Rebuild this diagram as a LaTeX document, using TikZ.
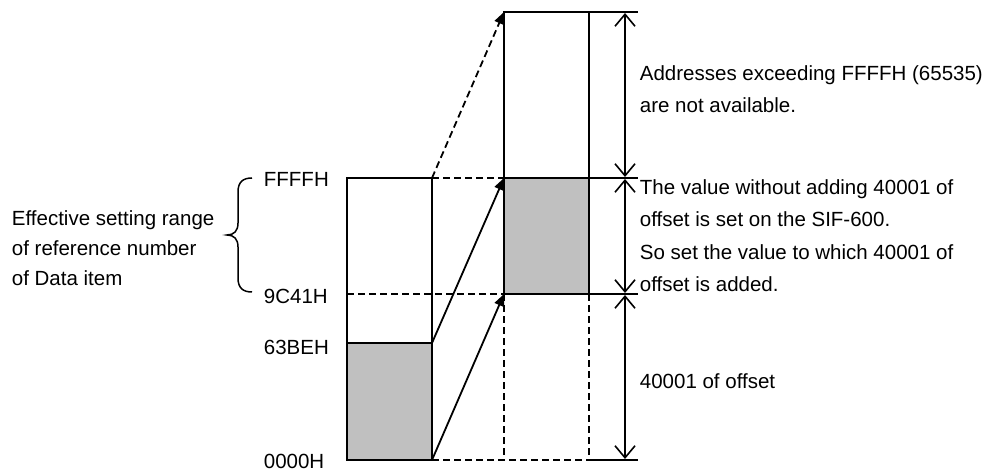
\documentclass[tikz,border=0pt]{standalone}
\usepackage{fontspec}
\setmainfont{Liberation Sans}
\usetikzlibrary{arrows.meta}
\definecolor{boxgray}{HTML}{C0C0C0}
\begin{document}
\begin{tikzpicture}[x=1pt,y=-1pt,line width=1.8pt,
  txt/.style={anchor=base west,inner sep=0pt,font=\fontsize{20.5}{24}\selectfont},
  dsh/.style={dash pattern=on 7pt off 4pt},
  fa/.style={-{Triangle[length=12pt,width=10pt]}},
  vtip/.tip={Straight Barb[length=12pt,width=20pt]},
  da/.style={line width=1.6pt,vtip-vtip}]
\useasboundingbox (0,0) rectangle (998,470);
% coordinates
\coordinate (lt1) at (347,178); \coordinate (lt2) at (432,178);
\coordinate (lm1) at (347,294); \coordinate (lm2) at (432,294);
\coordinate (ls1) at (347,343); \coordinate (ls2) at (432,343);
\coordinate (lb1) at (347,460); \coordinate (lb2) at (432,460);
\coordinate (rt1) at (504,12);  \coordinate (rt2) at (589,12);
\coordinate (ru1) at (504,178); \coordinate (ru2) at (589,178);
\coordinate (rm1) at (504,294); \coordinate (rm2) at (589,294);
\coordinate (rb1) at (504,460); \coordinate (rb2) at (589,460);
\coordinate (e1) at (638,12); \coordinate (e2) at (638,178);
\coordinate (e3) at (638,294); \coordinate (e4) at (638,460);
\coordinate (a1) at (625,13); \coordinate (a2) at (625,177);
\coordinate (a2b) at (625,179); \coordinate (a3) at (625,293);
\coordinate (a3b) at (625,295); \coordinate (a4) at (625,459);
% fills
\fill[boxgray] (ls1) rectangle (lb2);
\fill[boxgray] (ru1) rectangle (rm2);
% dashed lines
\draw[dsh] (lt2) -- (ru1);
\draw[dsh] (lm1) -- (rm1);
\draw[dsh] (lb2) -- (rb2);
\draw[dsh] (rm1) -- (rb1);
\draw[dsh] (rm2) -- (rb2);
% solid boxes
\draw (lt1) rectangle (lb2);
\draw (ls1) -- (ls2);
\draw (rt1) rectangle (rm2);
\draw (ru1) -- (e2);
\draw (rt2) -- (e1);
\draw (rm2) -- (e3);
\draw (rb2) -- (e4);
% arrows
\draw[dsh,fa] (lt2) -- (rt1);
\draw[fa] (ls2) -- (ru1);
\draw[fa] (lb2) -- (rm1);
\draw[da] (a1) -- (a2);
\draw[da] (a2b) -- (a3);
\draw[da] (a3b) -- (a4);
% brace
\draw[line width=1.5pt] (252,178) .. controls (243,178) and (238,182) .. (238,192) -- (238,223)
  .. controls (238,231) and (234,235) .. (227,235)
  .. controls (234,235) and (238,239) .. (238,247) -- (238,278)
  .. controls (238,288) and (243,292) .. (252,292);
% labels
\node[txt] (lf) at (263,187) {FFFFH};
\node[txt] (l9) at (263,303) {9C41H};
\node[txt] (l6) at (263,354) {63BEH};
\node[txt] (l0) at (263,468) {0000H};
\node[txt] (le1) at (11,226) {Effective setting range};
\node[txt] (le2) at (11,256) {of reference number};
\node[txt] (le3) at (11,286) {of Data item};
\node[txt] (t1) at (639,81) {Addresses exceeding FFFFH (65535)};
\node[txt] (t2) at (639,113) {are not available.};
\node[txt] (t3) at (639,195) {The value without adding 40001 of};
\node[txt] (t4) at (639,227) {offset is set on the SIF-600.};
\node[txt] (t5) at (639,259) {So set the value to which 40001 of};
\node[txt] (t6) at (639,291) {offset is added.};
\node[txt] (t7) at (639,388) {40001 of offset};
\end{tikzpicture}
\end{document}
